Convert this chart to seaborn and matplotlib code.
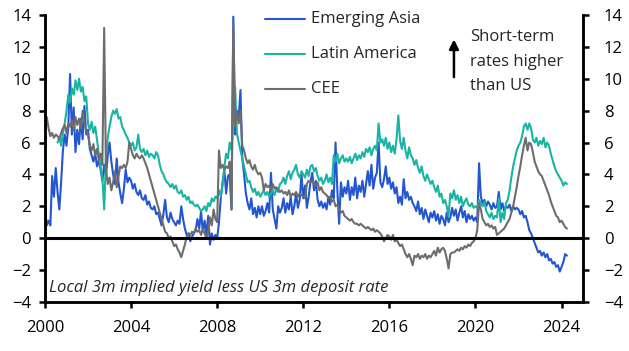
import numpy as np
import pandas as pd
import matplotlib
matplotlib.use("Agg")
import matplotlib.pyplot as plt
import seaborn as sns

# monthly readings, Jan 2000 - Apr 2024 (Latin America starts Aug 2000)
emerging_asia = [
    1.9, 0.8, 1.1, 0.8, 3.9, 2.6, 4.4, 2.9, 1.8, 3.5, 5.5, 6.5,
    5.8, 7.0, 10.3, 6.5, 8.2, 5.4, 6.8, 5.9, 7.5, 6.2, 8.3, 6.5,
    6.8, 5.6, 5.2, 4.8, 5.3, 4.5, 4.9, 4.3, 3.6, 4.6, 3.9, 5.2,
    6.0, 4.8, 4.0, 3.4, 5.0, 3.5, 2.8, 2.2, 3.1, 4.3, 3.5, 3.8,
    3.6, 3.1, 3.4, 2.9, 2.7, 3.0, 2.5, 2.4, 2.7, 2.1, 2.3, 1.9,
    1.8, 2.0, 1.5, 1.6, 1.2, 0.8, 1.5, 2.4, 1.3, 1.0, 1.6, 1.2,
    1.0, 0.8, 1.1, 0.9, 2.0, 1.2, 0.6, 0.2, 0.3, -0.2, 0.1, 0.3,
    0.5, 1.2, 0.6, 1.7, 0.4, 1.1, 0.2, 1.4, -0.4, 0.3, -0.1, 0.2,
    0.0, 1.0, 2.5, 3.5, 4.3, 2.8, 3.9, 4.0, 1.8, 13.9, 6.5, 8.0,
    7.5, 9.3, 5.0, 4.0, 2.8, 2.2, 1.8, 2.5, 1.5, 1.9, 1.3, 2.0,
    1.5, 2.0, 1.4, 1.7, 2.2, 1.6, 4.1, 1.8, 1.2, 0.6, 2.0, 1.6,
    1.9, 2.5, 1.6, 2.2, 1.8, 2.6, 1.5, 2.0, 2.8, 1.9, 2.4, 4.0,
    2.5, 3.3, 1.9, 2.6, 3.5, 4.1, 3.0, 3.6, 2.4, 2.0, 2.3, 1.9,
    2.2, 1.8, 2.6, 2.1, 3.0, 2.5, 6.0, 3.0, 0.9, 3.5, 2.6, 3.2,
    2.8, 3.6, 2.4, 3.2, 2.7, 3.8, 2.5, 3.3, 2.9, 3.6, 2.6, 3.4,
    4.2, 3.3, 4.6, 3.1, 3.8, 4.1, 6.0, 3.5, 3.2, 3.7, 4.5, 3.4,
    3.8, 3.1, 3.5, 2.8, 3.2, 2.2, 2.6, 2.1, 3.7, 2.5, 2.9, 2.4,
    2.6, 2.2, 2.0, 1.7, 2.3, 1.5, 1.9, 1.2, 1.8, 1.4, 1.0, 1.6,
    1.3, 1.7, 1.1, 1.5, 0.9, 1.4, 1.2, 0.8, 1.6, 1.0, 1.3, 1.9,
    1.4, 1.8, 1.1, 1.6, 2.0, 1.3, 1.7, 1.0, 1.5, 1.2, 1.4, 1.1,
    1.3, 1.0, 4.7, 2.6, 2.2, 2.4, 2.0, 2.3, 2.1, 1.8, 2.2, 1.9,
    2.0, 2.9, 1.8, 2.2, 1.7, 2.0, 1.9, 2.1, 1.7, 2.0, 1.8, 1.9,
    1.8, 1.5, 1.7, 1.3, 1.4, 1.0, 0.5, 0.3, 0.0, -0.3, -0.6, -0.9,
    -0.8, -1.1, -0.9, -1.2, -1.0, -1.4, -1.3, -1.6, -1.5, -1.8, -1.7, -2.1,
    -1.8, -1.5, -1.0, -1.1,
]

latin_america = [
    6.0, 6.3, 5.8, 6.6, 7.2,
    8.0, 9.0, 8.5, 9.4, 9.0, 9.9, 9.3, 10.0, 9.2, 9.5, 8.6, 8.9,
    7.2, 6.8, 7.3, 6.6, 7.0, 6.2, 5.3, 4.5, 3.8, 1.8, 5.0, 6.3,
    7.0, 7.6, 8.0, 7.8, 8.1, 7.5, 7.6, 7.0, 6.8, 6.5, 6.3, 6.0,
    5.8, 6.0, 5.5, 5.7, 6.5, 5.6, 5.4, 5.6, 5.2, 5.5, 5.1, 5.3,
    5.2, 5.0, 5.4, 5.2, 4.6, 4.2, 4.0, 3.7, 3.5, 3.4, 3.2, 3.4,
    3.1, 3.3, 2.9, 2.8, 3.0, 2.6, 2.7, 2.4, 2.6, 2.2, 2.3, 2.1,
    2.0, 2.1, 1.9, 1.7, 1.8, 2.0, 1.7, 2.2, 2.0, 2.5, 2.3, 2.6,
    2.5, 3.0, 2.6, 3.3, 4.5, 5.3, 5.0, 6.0, 5.5, 7.6, 9.5, 6.6,
    6.0, 5.5, 5.0, 4.5, 4.0, 3.5, 3.6, 3.2, 2.9, 3.1, 2.7, 2.9,
    2.6, 2.8, 3.0, 2.7, 2.9, 2.6, 2.8, 3.0, 2.7, 3.1, 2.9, 3.4,
    3.5, 3.8, 3.4, 3.9, 4.2, 3.7, 4.1, 4.3, 4.6, 4.0, 3.8, 4.2,
    4.0, 3.8, 4.3, 3.9, 4.5, 4.6, 4.2, 4.4, 3.9, 3.6, 3.8, 3.4,
    3.6, 4.0, 3.5, 3.8, 3.4, 5.2, 4.8, 5.3, 4.7, 5.0, 5.2, 4.8,
    5.0, 4.8, 5.1, 4.7, 5.0, 5.3, 4.9, 5.2, 5.0, 5.4, 5.1, 5.6,
    5.4, 5.7, 5.2, 5.6, 5.8, 5.5, 7.2, 6.0, 6.2, 5.8, 6.3, 5.6,
    6.0, 5.4, 5.8, 5.3, 6.2, 7.7, 6.1, 5.6, 6.3, 5.5, 5.0, 5.7,
    5.2, 5.0, 4.6, 4.9, 4.4, 4.1, 4.5, 3.9, 3.6, 4.0, 3.7, 3.4,
    3.6, 3.2, 2.9, 3.3, 2.6, 2.8, 2.2, 2.4, 2.0, 1.4, 2.8, 2.5,
    3.0, 2.4, 2.7, 2.2, 2.6, 2.0, 2.3, 2.5, 2.1, 2.0, 2.2, 1.9,
    2.0, 1.9, 2.4, 2.2, 2.0, 2.3, 1.7, 1.5, 1.3, 1.6, 1.2, 1.4,
    1.3, 2.5, 1.0, 1.6, 1.2, 2.2, 2.4, 3.0, 3.8, 4.5, 5.0, 5.5,
    5.8, 6.0, 6.4, 7.0, 7.2, 6.8, 7.2, 6.9, 6.2, 6.0, 6.3, 5.8,
    6.1, 5.9, 6.3, 5.7, 6.0, 5.8, 5.3, 4.9, 4.5, 4.2, 4.0, 3.8,
    3.6, 3.3, 3.5, 3.4,
]

cee = [
    6.8, 7.6, 6.9, 6.4, 6.6, 6.3, 6.5, 6.4, 6.2, 6.6, 6.9, 7.1,
    6.6, 7.2, 7.0, 7.4, 6.8, 7.6, 7.1, 7.5, 6.9, 8.0, 7.2, 6.8,
    6.5, 5.8, 5.5, 5.9, 5.2, 5.6, 4.9, 5.3, 4.6, 13.2, 4.3, 3.4,
    3.8, 3.0, 3.5, 4.2, 3.2, 3.9, 4.5, 4.4, 4.6, 4.4, 4.8, 6.0,
    5.6, 5.2, 5.0, 5.3, 5.1, 5.0, 5.2, 5.0, 4.7, 4.4, 4.0, 3.6,
    3.2, 2.8, 2.4, 2.0, 1.6, 1.2, 0.8, 0.4, 0.3, 0.0, 0.1, -0.2,
    -0.5, -0.4, -0.7, -0.9, -1.2, -0.8, -0.4, 0.1, 0.3, 0.2, 0.4, 0.3,
    0.6, 0.4, 0.5, 0.2, 0.6, 0.3, 0.0, 0.4, 1.3, 0.8, 1.8, 1.2,
    1.0, 5.5, 4.4, 4.6, 4.3, 4.5, 4.4, 4.8, 1.8, 13.5, 7.0, 8.0,
    7.2, 8.0, 5.8, 5.5, 5.0, 4.7, 4.9, 4.5, 4.3, 4.6, 4.2, 4.0,
    4.1, 3.8, 3.0, 3.4, 3.2, 3.3, 3.0, 3.4, 3.1, 3.2, 3.0, 2.9,
    3.0, 2.8, 2.9, 2.7, 3.0, 2.6, 2.8, 2.7, 2.9, 2.6, 2.8, 2.7,
    2.6, 2.5, 3.4, 3.6, 3.5, 3.6, 3.4, 3.3, 3.5, 3.0, 3.2, 2.9,
    2.8, 2.7, 2.5, 2.6, 2.3, 2.4, 2.0, 2.1, 1.8, 1.6, 1.7, 1.4,
    1.3, 1.2, 1.1, 1.2, 1.0, 0.9, 0.9, 0.8, 0.9, 0.8, 0.7, 0.6,
    0.7, 0.6, 0.5, 0.6, 0.4, 0.5, 0.4, 0.3, 0.1, -0.2, 0.0, 0.2,
    0.1, -0.1, 0.2, -0.2, -0.1, -0.3, -0.5, -0.4, -0.7, -1.0, -1.2, -1.0,
    -1.3, -1.7, -1.1, -1.2, -1.0, -1.3, -1.1, -1.2, -1.0, -1.3, -1.1, -1.2,
    -1.0, -0.8, -1.1, -0.6, -0.9, -0.7, -0.6, -0.8, -1.3, -1.9, -1.0, -0.9,
    -0.9, -0.8, -0.7, -0.8, -0.6, -0.7, -0.5, -0.6, -0.4, -0.5, -0.3, -0.2,
    0.0, 0.5, 2.2, 1.8, 1.2, 1.0, 0.8, 0.9, 0.7, 0.8, 0.6, 0.7,
    0.2, 0.3, 0.4, 0.5, 0.6, 0.8, 1.0, 1.2, 1.6, 2.0, 2.6, 3.2,
    3.9, 4.5, 5.2, 5.8, 6.3, 5.5, 6.0, 5.9, 5.4, 4.8, 4.5, 4.2,
    4.0, 3.9, 3.6, 3.3, 3.0, 2.7, 2.3, 2.0, 1.7, 1.4, 1.3, 1.0,
    1.1, 0.9, 0.7, 0.6,
]

series_names = ["Emerging Asia", "Latin America", "CEE"]
colors = ["#2356cf", "#1ab4a4", "#6d6d6d"]
y_ticks = [-4, -2, 0, 2, 4, 6, 8, 10, 12, 14]
x_ticks = [2000, 2004, 2008, 2012, 2016, 2020, 2024]
note_lines = ["Short-term", "rates higher", "than US"]


def to_decimal_year(start, n):
    d = pd.date_range(start, periods=n, freq="MS")
    return d.year + (d.month - 1) / 12


frames = []
for name, vals, start in [("Emerging Asia", emerging_asia, "2000-01"),
                          ("Latin America", latin_america, "2000-08"),
                          ("CEE", cee, "2000-01")]:
    frames.append(pd.DataFrame({"year": to_decimal_year(start, len(vals)),
                                "value": vals, "series": name}))
df = pd.concat(frames, ignore_index=True)

sns.set_style("white")
plt.rcParams["font.family"] = ["Open Sans", "DejaVu Sans"]

fig = plt.figure(figsize=(6.29, 3.51), dpi=100)
ax = fig.add_axes([0.0715, 0.14, 0.8555, 0.817])

sns.lineplot(data=df, x="year", y="value", hue="series", hue_order=series_names,
             palette=colors, linewidth=1.5, ax=ax, legend=False)

ax.axhline(0, color="black", linewidth=2.2, zorder=5)

ax.set_xlim(2000, 2025)
ax.set_ylim(-4, 14)
ax.set_xticks(x_ticks)
ax.set_yticks(y_ticks)
ax.set_xlabel("")
ax.set_ylabel("")

ax2 = ax.twinx()
ax2.set_ylim(-4, 14)
ax2.set_yticks(y_ticks)

for a in (ax, ax2):
    a.spines["top"].set_visible(False)
    for s in ("left", "right", "bottom"):
        a.spines[s].set_linewidth(1.8)
        a.spines[s].set_color("black")
    a.tick_params(axis="both", direction="out", length=4, width=1.8,
                  labelsize=12, colors="black")
ax.tick_params(axis="y", left=True, right=False, pad=6)
ax.tick_params(axis="x", bottom=True, pad=9)
ax2.tick_params(axis="y", right=True, pad=11)

# legend as lines + text
for i, (name, c) in enumerate(zip(series_names, colors)):
    yy = 0.985 - i * 0.122
    ax.plot([0.409, 0.483], [yy, yy], transform=ax.transAxes, color=c,
            linewidth=1.5, clip_on=False)
    ax.text(0.494, yy, name, transform=ax.transAxes, fontsize=12,
            va="center", ha="left")

ax.annotate("", xy=(0.760, 0.925), xytext=(0.760, 0.774),
            xycoords="axes fraction",
            arrowprops=dict(arrowstyle="-|>", color="black", lw=1.8,
                            mutation_scale=14))
for i, line in enumerate(note_lines):
    ax.text(0.79, 0.923 - i * 0.085, line, transform=ax.transAxes,
            fontsize=12, va="center", ha="left")

ax.text(0.008, 0.05, "Local 3m implied yield less US 3m deposit rate",
        transform=ax.transAxes, fontsize=12, style="italic",
        va="center", ha="left")

fig.savefig("out.png", dpi=100)
